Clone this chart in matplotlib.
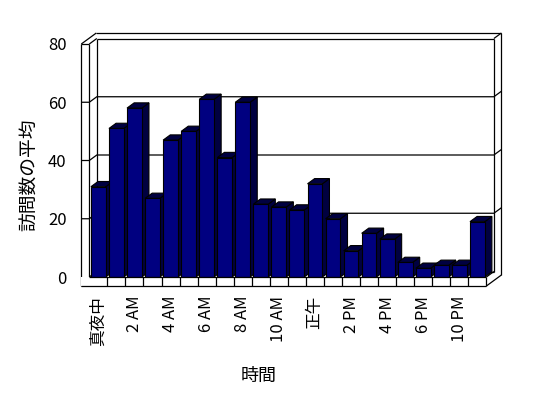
# -*- coding: utf-8 -*-

# %% Imports
import matplotlib
matplotlib.use('Agg')
import matplotlib.pyplot as plt
from matplotlib.patches import Polygon, Rectangle
import numpy as np

plt.rcParams['font.family'] = ['Noto Sans CJK JP', 'DejaVu Sans']

# %% Data
hours = ['真夜中', '1 AM', '2 AM', '3 AM', '4 AM', '5 AM', '6 AM', '7 AM',
         '8 AM', '9 AM', '10 AM', '11 AM', '正午', '1 PM', '2 PM', '3 PM',
         '4 PM', '5 PM', '6 PM', '7 PM', '10 PM', '11 PM']
visits = [31, 51, 58, 27, 47, 50, 61, 41, 60, 25, 24, 23,
          32, 20, 9, 15, 13, 5, 3, 4, 4, 19]
y_ticks = [0, 20, 40, 60, 80]
x_title = '時間'
y_title = '訪問数の平均'

# %% Layout (pixels of the 548x398 picture)
W, H = 548, 398
X0, SX = 89.3, 18.05      # px of left plot edge, px per category
Y0, SY = 277.0, 2.9125    # px of value 0, px per value unit
DPX, DPY = 7.5, 5.5       # depth offset in px
dx, dy = DPX / SX, DPY / SY
wall = 8.0 / SX
floor = 9.0 / SY
vmax = y_ticks[-1]
n = len(visits)

uL, uA, uR = -0.5 - wall, -0.5, n - 0.5
vB, vT = -floor, vmax

fig = plt.figure(figsize=(W / 100, H / 100), dpi=100)
left = (X0 - 8.0) / W
right = (X0 + n * SX + 2 * DPX) / W
bottom = 1 - (Y0 + 9.0) / H
top = 1 - (Y0 - vmax * SY - 2 * DPY) / H
ax = fig.add_axes([left, bottom, right - left, top - bottom])
ax.set_xlim(uL, uR + 2 * dx)
ax.set_ylim(vB, vT + 2 * dy)
for s in ax.spines.values():
    s.set_visible(False)


def P(u, v, d):
    return (u + d * dx, v + d * dy)


def line(*pts, z=1):
    xs, ys = zip(*pts)
    ax.plot(xs, ys, color='black', lw=0.9, clip_on=False, zorder=z,
            solid_capstyle='butt')


# Back wall, side wall and floor
line(P(uA, 0, 1), P(uA, vT, 1))
line(P(uA, 0, 1), P(uR, 0, 1))
line(P(uA, 0, 0), P(uA, 0, 1))
for g in y_ticks[1:-1]:
    line(P(uL, g, 0), P(uA, g, 0), P(uA, g, 1), P(uR, g, 1), P(uR, g, 2))
line(P(uA, vT, 1), P(uR, vT, 1))
line(P(uL, vT, 2), P(uR, vT, 2))
line(P(uR, vT, 1), P(uR, vT, 2))
line(P(uR, vT, 1), P(uR, 0, 1))
line(P(uR, vT, 2), P(uR, vB, 2))
line(P(uR, 0, 0), P(uR, 0, 1))
line(P(uR, vB, 0), P(uR, vB, 2))
line(P(uL, vT, 0), P(uL, vT, 2))
line(P(uA, vT, 0), P(uA, vT, 1))

# Bars
bw = 0.82
bd = 0.95
navy = '#000080'
dark = '#000040'
for k, v in enumerate(visits):
    u0, u1 = k - bw / 2, k + bw / 2
    side = Polygon([(u1, 0), (u1, v), (u1 + bd * dx, v + bd * dy),
                    (u1 + bd * dx, bd * dy)], closed=True, facecolor=dark,
                   edgecolor='black', lw=0.8, zorder=2)
    topf = Polygon([(u0, v), (u1, v), (u1 + bd * dx, v + bd * dy),
                    (u0 + bd * dx, v + bd * dy)], closed=True,
                   facecolor=dark, edgecolor='black', lw=0.8, zorder=2)
    front = Rectangle((u0, 0), bw, v, facecolor=navy, edgecolor='black',
                      lw=0.8, zorder=2)
    ax.add_patch(side)
    ax.add_patch(topf)
    ax.add_patch(front)

# Front of the side wall and the floor (drawn over the bars)
line(P(uL, vB, 0), P(uL, vT, 0), z=3)
line(P(uA, 0, 0), P(uA, vT, 0), z=3)
line(P(uL, vT, 0), P(uA, vT, 0), z=3)
floor_face = Rectangle((uL, vB), uR - uL, floor, facecolor='white',
                       edgecolor='none', zorder=3, clip_on=False)
ax.add_patch(floor_face)
line(P(uL, vB, 0), P(uR, vB, 0), z=4)
line(P(uR, vB, 0), P(uR, 0, 0), z=4)
line(P(uA, 0, 0), P(uR, 0, 0), z=4)
for k in range(n - 1):
    line(P(k + 0.5, vB, 0), P(k + 0.5, 0, 0), z=4)

# Axes ticks and labels
ax.set_yticks(y_ticks)
ax.set_yticklabels([str(t) for t in y_ticks], fontsize=12)
ax.tick_params(axis='y', length=0, pad=10.5)
xpos = np.arange(n)[::2]
ax.set_xticks(xpos)
ax.set_xticklabels(hours[::2], rotation=90, fontsize=12, va='top',
                   ha='center')
ax.tick_params(axis='x', length=0, pad=7)

fig.text(30 / W, 1 - 175 / H, y_title, rotation=90, fontsize=13.5,
         ha='center', va='center')
fig.text(259 / W, 1 - 376 / H, x_title, fontsize=13, ha='center',
         va='center')

fig.savefig('out.png', dpi=100, facecolor='white')
